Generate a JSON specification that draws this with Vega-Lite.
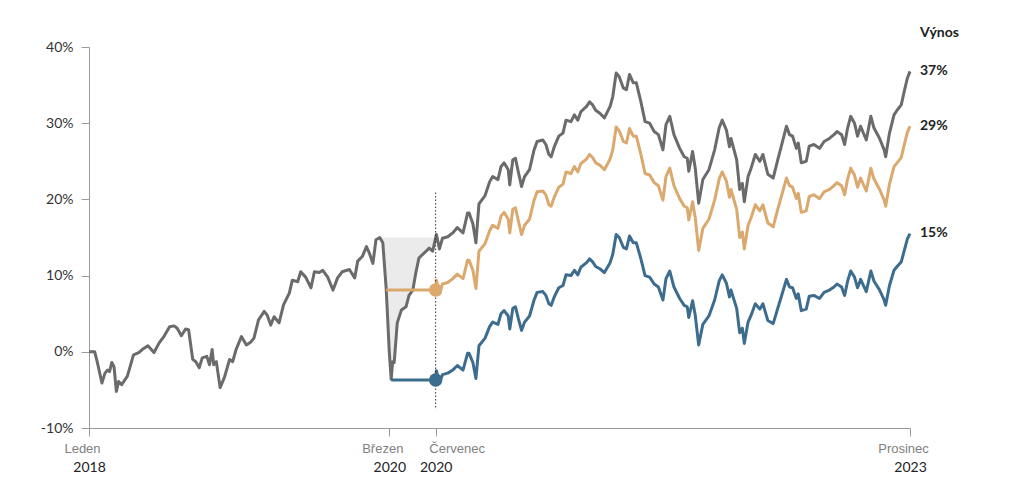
{
  "$schema": "https://vega.github.io/schema/vega-lite/v6.json",
  "width": 821,
  "height": 381,
  "autosize": {"type": "none"},
  "padding": {"left": 89, "top": 47, "right": 114, "bottom": 72},
  "background": "white",
  "config": {"view": {"stroke": null}},
  "datasets": {
    "g": [
      {"d":"2018-01-01","v":0},{"d":"2018-01-16","v":0.0},{"d":"2018-01-23","v":-1.4},{"d":"2018-02-04","v":-4.1},
      {"d":"2018-02-12","v":-2.8},{"d":"2018-02-19","v":-2.4},{"d":"2018-02-24","v":-2.6},{"d":"2018-03-02","v":-1.4},
      {"d":"2018-03-08","v":-2.0},{"d":"2018-03-14","v":-5.2},{"d":"2018-03-20","v":-3.9},{"d":"2018-03-28","v":-4.3},
      {"d":"2018-04-12","v":-3.2},{"d":"2018-04-28","v":-0.4},{"d":"2018-05-12","v":-0.1},{"d":"2018-05-21","v":0.3},
      {"d":"2018-06-05","v":0.8},{"d":"2018-06-21","v":-0.1},{"d":"2018-07-05","v":1.2},{"d":"2018-07-17","v":2.0},
      {"d":"2018-08-01","v":3.3},{"d":"2018-08-13","v":3.4},{"d":"2018-08-21","v":3.1},{"d":"2018-09-01","v":2.1},
      {"d":"2018-09-12","v":3.0},{"d":"2018-09-20","v":2.9},{"d":"2018-10-01","v":-1.0},{"d":"2018-10-09","v":-1.3},
      {"d":"2018-10-18","v":-2.1},{"d":"2018-10-26","v":-0.8},{"d":"2018-11-07","v":-0.6},{"d":"2018-11-14","v":-1.7},
      {"d":"2018-11-21","v":0.3},{"d":"2018-11-25","v":-1.7},{"d":"2018-12-02","v":-1.3},{"d":"2018-12-12","v":-4.7},
      {"d":"2018-12-23","v":-3.4},{"d":"2019-01-06","v":-1.0},{"d":"2019-01-14","v":-1.3},{"d":"2019-01-23","v":0.3},
      {"d":"2019-02-06","v":2.0},{"d":"2019-02-19","v":0.9},{"d":"2019-03-03","v":1.3},{"d":"2019-03-11","v":1.8},
      {"d":"2019-03-23","v":4.2},{"d":"2019-04-07","v":5.3},{"d":"2019-04-15","v":4.8},{"d":"2019-04-24","v":3.5},
      {"d":"2019-05-03","v":4.6},{"d":"2019-05-16","v":3.8},{"d":"2019-05-28","v":6.2},{"d":"2019-06-12","v":7.7},
      {"d":"2019-06-20","v":9.4},{"d":"2019-07-04","v":9.2},{"d":"2019-07-12","v":10.5},{"d":"2019-07-25","v":9.8},
      {"d":"2019-08-08","v":8.4},{"d":"2019-08-17","v":10.5},{"d":"2019-08-30","v":10.4},{"d":"2019-09-08","v":10.7},
      {"d":"2019-09-21","v":9.8},{"d":"2019-10-05","v":8.1},{"d":"2019-10-17","v":9.7},{"d":"2019-10-29","v":10.5},
      {"d":"2019-11-17","v":10.8},{"d":"2019-12-01","v":9.7},{"d":"2019-12-09","v":11.9},{"d":"2019-12-21","v":12.5},
      {"d":"2020-01-01","v":13.8},{"d":"2020-01-09","v":12.9},{"d":"2020-01-18","v":11.6},{"d":"2020-01-26","v":14.7},
      {"d":"2020-02-05","v":15.0},{"d":"2020-02-13","v":14.3},{"d":"2020-02-22","v":8.2},{"d":"2020-03-01","v":0.0},
      {"d":"2020-03-06","v":-3.6},{"d":"2020-03-10","v":-1.3},{"d":"2020-03-14","v":-1.4},{"d":"2020-03-22","v":3.8},
      {"d":"2020-04-02","v":5.5},{"d":"2020-04-14","v":5.9},{"d":"2020-04-22","v":7.4},{"d":"2020-05-02","v":8.1},
      {"d":"2020-05-10","v":10.4},{"d":"2020-05-18","v":12.3},{"d":"2020-05-26","v":12.7},{"d":"2020-06-06","v":13.2},
      {"d":"2020-06-14","v":13.6},{"d":"2020-06-23","v":13.2},{"d":"2020-07-03","v":15.4},{"d":"2020-07-11","v":13.5},
      {"d":"2020-07-19","v":14.9},{"d":"2020-08-02","v":15.1},{"d":"2020-08-15","v":15.6},{"d":"2020-08-27","v":16.3},
      {"d":"2020-09-11","v":15.6},{"d":"2020-09-23","v":18.2},{"d":"2020-09-27","v":18.2},{"d":"2020-10-07","v":16.8},
      {"d":"2020-10-15","v":14.3},{"d":"2020-10-23","v":19.4},{"d":"2020-11-08","v":20.5},{"d":"2020-11-20","v":22.3},
      {"d":"2020-11-28","v":23.0},{"d":"2020-12-12","v":22.6},{"d":"2020-12-20","v":24.3},{"d":"2020-12-28","v":24.8},
      {"d":"2021-01-08","v":23.9},{"d":"2021-01-12","v":21.9},{"d":"2021-01-20","v":25.2},{"d":"2021-01-27","v":25.4},
      {"d":"2021-02-04","v":23.5},{"d":"2021-02-12","v":21.7},{"d":"2021-02-20","v":23.0},{"d":"2021-03-05","v":23.9},
      {"d":"2021-03-17","v":26.5},{"d":"2021-03-25","v":27.6},{"d":"2021-04-09","v":27.8},{"d":"2021-04-17","v":27.2},
      {"d":"2021-04-25","v":25.9},{"d":"2021-05-01","v":25.6},{"d":"2021-05-09","v":26.9},{"d":"2021-05-21","v":28.3},
      {"d":"2021-06-01","v":28.7},{"d":"2021-06-09","v":30.4},{"d":"2021-06-22","v":30.2},{"d":"2021-07-01","v":31.1},
      {"d":"2021-07-10","v":30.4},{"d":"2021-07-18","v":31.5},{"d":"2021-08-02","v":32.2},{"d":"2021-08-10","v":32.8},
      {"d":"2021-08-18","v":32.4},{"d":"2021-08-26","v":31.7},{"d":"2021-09-06","v":31.3},{"d":"2021-09-18","v":30.7},
      {"d":"2021-10-03","v":32.2},{"d":"2021-10-10","v":33.5},{"d":"2021-10-19","v":36.6},{"d":"2021-10-27","v":36.1},
      {"d":"2021-11-07","v":34.6},{"d":"2021-11-15","v":34.4},{"d":"2021-11-23","v":36.4},{"d":"2021-12-03","v":35.3},
      {"d":"2021-12-11","v":35.3},{"d":"2021-12-23","v":32.8},{"d":"2022-01-03","v":30.2},{"d":"2022-01-15","v":30.0},
      {"d":"2022-01-27","v":28.9},{"d":"2022-02-07","v":28.5},{"d":"2022-02-19","v":26.5},{"d":"2022-02-27","v":29.8},
      {"d":"2022-03-09","v":30.9},{"d":"2022-03-20","v":28.5},{"d":"2022-04-04","v":26.7},{"d":"2022-04-16","v":25.6},
      {"d":"2022-04-24","v":25.4},{"d":"2022-04-28","v":23.7},{"d":"2022-05-08","v":26.3},{"d":"2022-05-15","v":24.1},
      {"d":"2022-05-24","v":19.5},{"d":"2022-06-04","v":22.6},{"d":"2022-06-20","v":23.9},{"d":"2022-07-05","v":26.5},
      {"d":"2022-07-17","v":29.4},{"d":"2022-07-25","v":30.4},{"d":"2022-08-05","v":29.1},{"d":"2022-08-13","v":26.9},
      {"d":"2022-08-17","v":28.0},{"d":"2022-09-01","v":25.2},{"d":"2022-09-09","v":21.3},{"d":"2022-09-16","v":22.1},
      {"d":"2022-09-21","v":19.7},{"d":"2022-10-01","v":23.0},{"d":"2022-10-09","v":24.1},{"d":"2022-10-20","v":25.9},
      {"d":"2022-11-01","v":25.0},{"d":"2022-11-09","v":25.9},{"d":"2022-11-22","v":23.3},{"d":"2022-12-06","v":22.8},
      {"d":"2022-12-18","v":25.2},{"d":"2022-12-26","v":26.7},{"d":"2023-01-10","v":29.6},{"d":"2023-01-18","v":28.5},
      {"d":"2023-01-26","v":28.3},{"d":"2023-02-05","v":26.7},{"d":"2023-02-10","v":27.4},{"d":"2023-02-18","v":24.8},
      {"d":"2023-03-03","v":25.0},{"d":"2023-03-11","v":27.0},{"d":"2023-03-23","v":27.2},{"d":"2023-04-07","v":26.7},
      {"d":"2023-04-19","v":27.6},{"d":"2023-05-03","v":28.0},{"d":"2023-05-15","v":28.5},{"d":"2023-05-23","v":28.9},
      {"d":"2023-06-04","v":28.5},{"d":"2023-06-12","v":27.2},{"d":"2023-06-20","v":29.4},{"d":"2023-06-28","v":30.9},
      {"d":"2023-07-08","v":30.0},{"d":"2023-07-16","v":28.3},{"d":"2023-07-24","v":29.6},{"d":"2023-08-08","v":27.8},
      {"d":"2023-08-20","v":30.9},{"d":"2023-08-28","v":29.4},{"d":"2023-09-12","v":28.0},{"d":"2023-09-24","v":26.5},
      {"d":"2023-09-28","v":25.6},{"d":"2023-10-08","v":28.7},{"d":"2023-10-20","v":31.1},{"d":"2023-10-28","v":31.7},
      {"d":"2023-11-08","v":32.4},{"d":"2023-11-16","v":34.2},{"d":"2023-11-24","v":35.9},{"d":"2023-12-01","v":36.8}
    ],
    "t": [
      {"d":"2020-02-22","v":8.1},{"d":"2020-07-01","v":8.1},{"d":"2020-07-03","v":9.4},{"d":"2020-07-11","v":7.6},
      {"d":"2020-07-19","v":8.9},{"d":"2020-08-02","v":9.1},{"d":"2020-08-15","v":9.6},{"d":"2020-08-27","v":10.2},
      {"d":"2020-09-11","v":9.6},{"d":"2020-09-23","v":12.0},{"d":"2020-09-27","v":12.0},{"d":"2020-10-07","v":10.7},
      {"d":"2020-10-15","v":8.3},{"d":"2020-10-23","v":13.2},{"d":"2020-11-08","v":14.2},{"d":"2020-11-20","v":15.9},
      {"d":"2020-11-28","v":16.6},{"d":"2020-12-12","v":16.2},{"d":"2020-12-20","v":17.8},{"d":"2020-12-28","v":18.3},
      {"d":"2021-01-08","v":17.4},{"d":"2021-01-12","v":15.6},{"d":"2021-01-20","v":18.7},{"d":"2021-01-27","v":18.9},
      {"d":"2021-02-04","v":17.1},{"d":"2021-02-12","v":15.4},{"d":"2021-02-20","v":16.6},{"d":"2021-03-05","v":17.4},
      {"d":"2021-03-17","v":19.9},{"d":"2021-03-25","v":21.0},{"d":"2021-04-09","v":21.1},{"d":"2021-04-17","v":20.6},
      {"d":"2021-04-25","v":19.3},{"d":"2021-05-01","v":19.1},{"d":"2021-05-09","v":20.3},{"d":"2021-05-21","v":21.6},
      {"d":"2021-06-01","v":22.0},{"d":"2021-06-09","v":23.6},{"d":"2021-06-22","v":23.4},{"d":"2021-07-01","v":24.3},
      {"d":"2021-07-10","v":23.6},{"d":"2021-07-18","v":24.7},{"d":"2021-08-02","v":25.3},{"d":"2021-08-10","v":25.9},
      {"d":"2021-08-18","v":25.5},{"d":"2021-08-26","v":24.8},{"d":"2021-09-06","v":24.5},{"d":"2021-09-18","v":23.9},
      {"d":"2021-10-03","v":25.3},{"d":"2021-10-10","v":26.5},{"d":"2021-10-19","v":29.5},{"d":"2021-10-27","v":29.0},
      {"d":"2021-11-07","v":27.6},{"d":"2021-11-15","v":27.4},{"d":"2021-11-23","v":29.3},{"d":"2021-12-03","v":28.3},
      {"d":"2021-12-11","v":28.3},{"d":"2021-12-23","v":25.9},{"d":"2022-01-03","v":23.4},{"d":"2022-01-15","v":23.2},
      {"d":"2022-01-27","v":22.2},{"d":"2022-02-07","v":21.8},{"d":"2022-02-19","v":19.9},{"d":"2022-02-27","v":23.0},
      {"d":"2022-03-09","v":24.1},{"d":"2022-03-20","v":21.8},{"d":"2022-04-04","v":20.1},{"d":"2022-04-16","v":19.1},
      {"d":"2022-04-24","v":18.9},{"d":"2022-04-28","v":17.3},{"d":"2022-05-08","v":19.7},{"d":"2022-05-15","v":17.6},
      {"d":"2022-05-24","v":13.3},{"d":"2022-06-04","v":16.2},{"d":"2022-06-20","v":17.4},{"d":"2022-07-05","v":19.9},
      {"d":"2022-07-17","v":22.7},{"d":"2022-07-25","v":23.6},{"d":"2022-08-05","v":22.4},{"d":"2022-08-13","v":20.3},
      {"d":"2022-08-17","v":21.3},{"d":"2022-09-01","v":18.7},{"d":"2022-09-09","v":15.0},{"d":"2022-09-16","v":15.7},
      {"d":"2022-09-21","v":13.5},{"d":"2022-10-01","v":16.6},{"d":"2022-10-09","v":17.6},{"d":"2022-10-20","v":19.3},
      {"d":"2022-11-01","v":18.5},{"d":"2022-11-09","v":19.3},{"d":"2022-11-22","v":16.9},{"d":"2022-12-06","v":16.4},
      {"d":"2022-12-18","v":18.7},{"d":"2022-12-26","v":20.1},{"d":"2023-01-10","v":22.8},{"d":"2023-01-18","v":21.8},
      {"d":"2023-01-26","v":21.6},{"d":"2023-02-05","v":20.1},{"d":"2023-02-10","v":20.8},{"d":"2023-02-18","v":18.3},
      {"d":"2023-03-03","v":18.5},{"d":"2023-03-11","v":20.4},{"d":"2023-03-23","v":20.6},{"d":"2023-04-07","v":20.1},
      {"d":"2023-04-19","v":21.0},{"d":"2023-05-03","v":21.3},{"d":"2023-05-15","v":21.8},{"d":"2023-05-23","v":22.2},
      {"d":"2023-06-04","v":21.8},{"d":"2023-06-12","v":20.6},{"d":"2023-06-20","v":22.7},{"d":"2023-06-28","v":24.1},
      {"d":"2023-07-08","v":23.2},{"d":"2023-07-16","v":21.6},{"d":"2023-07-24","v":22.8},{"d":"2023-08-08","v":21.1},
      {"d":"2023-08-20","v":24.1},{"d":"2023-08-28","v":22.7},{"d":"2023-09-12","v":21.3},{"d":"2023-09-24","v":19.9},
      {"d":"2023-09-28","v":19.1},{"d":"2023-10-08","v":22.0},{"d":"2023-10-20","v":24.3},{"d":"2023-10-28","v":24.8},
      {"d":"2023-11-08","v":25.5},{"d":"2023-11-16","v":27.2},{"d":"2023-11-24","v":28.8},{"d":"2023-12-01","v":29.6}
    ],
    "b": [
      {"d":"2020-03-06","v":-3.7},{"d":"2020-07-01","v":-3.7},{"d":"2020-07-03","v":-2.5},{"d":"2020-07-11","v":-4.1},
      {"d":"2020-07-19","v":-3.0},{"d":"2020-08-02","v":-2.8},{"d":"2020-08-15","v":-2.4},{"d":"2020-08-27","v":-1.8},
      {"d":"2020-09-11","v":-2.4},{"d":"2020-09-23","v":-0.2},{"d":"2020-09-27","v":-0.2},{"d":"2020-10-07","v":-1.4},
      {"d":"2020-10-15","v":-3.5},{"d":"2020-10-23","v":0.8},{"d":"2020-11-08","v":1.8},{"d":"2020-11-20","v":3.3},
      {"d":"2020-11-28","v":3.9},{"d":"2020-12-12","v":3.6},{"d":"2020-12-20","v":5.0},{"d":"2020-12-28","v":5.4},
      {"d":"2021-01-08","v":4.7},{"d":"2021-01-12","v":3.0},{"d":"2021-01-20","v":5.7},{"d":"2021-01-27","v":5.9},
      {"d":"2021-02-04","v":4.3},{"d":"2021-02-12","v":2.8},{"d":"2021-02-20","v":3.9},{"d":"2021-03-05","v":4.7},
      {"d":"2021-03-17","v":6.8},{"d":"2021-03-25","v":7.8},{"d":"2021-04-09","v":7.9},{"d":"2021-04-17","v":7.4},
      {"d":"2021-04-25","v":6.3},{"d":"2021-05-01","v":6.1},{"d":"2021-05-09","v":7.2},{"d":"2021-05-21","v":8.4},
      {"d":"2021-06-01","v":8.7},{"d":"2021-06-09","v":10.1},{"d":"2021-06-22","v":10.0},{"d":"2021-07-01","v":10.7},
      {"d":"2021-07-10","v":10.1},{"d":"2021-07-18","v":11.1},{"d":"2021-08-02","v":11.7},{"d":"2021-08-10","v":12.2},
      {"d":"2021-08-18","v":11.8},{"d":"2021-08-26","v":11.2},{"d":"2021-09-06","v":10.9},{"d":"2021-09-18","v":10.4},
      {"d":"2021-10-03","v":11.7},{"d":"2021-10-10","v":12.8},{"d":"2021-10-19","v":15.4},{"d":"2021-10-27","v":15.0},
      {"d":"2021-11-07","v":13.7},{"d":"2021-11-15","v":13.5},{"d":"2021-11-23","v":15.2},{"d":"2021-12-03","v":14.3},
      {"d":"2021-12-11","v":14.3},{"d":"2021-12-23","v":12.2},{"d":"2022-01-03","v":10.0},{"d":"2022-01-15","v":9.8},
      {"d":"2022-01-27","v":8.9},{"d":"2022-02-07","v":8.5},{"d":"2022-02-19","v":6.8},{"d":"2022-02-27","v":9.6},
      {"d":"2022-03-09","v":10.6},{"d":"2022-03-20","v":8.5},{"d":"2022-04-04","v":7.0},{"d":"2022-04-16","v":6.1},
      {"d":"2022-04-24","v":5.9},{"d":"2022-04-28","v":4.5},{"d":"2022-05-08","v":6.7},{"d":"2022-05-15","v":4.8},
      {"d":"2022-05-24","v":0.9},{"d":"2022-06-04","v":3.6},{"d":"2022-06-20","v":4.7},{"d":"2022-07-05","v":6.8},
      {"d":"2022-07-17","v":9.3},{"d":"2022-07-25","v":10.1},{"d":"2022-08-05","v":9.0},{"d":"2022-08-13","v":7.2},
      {"d":"2022-08-17","v":8.1},{"d":"2022-09-01","v":5.7},{"d":"2022-09-09","v":2.5},{"d":"2022-09-16","v":3.1},
      {"d":"2022-09-21","v":1.1},{"d":"2022-10-01","v":3.9},{"d":"2022-10-09","v":4.8},{"d":"2022-10-20","v":6.3},
      {"d":"2022-11-01","v":5.6},{"d":"2022-11-09","v":6.3},{"d":"2022-11-22","v":4.1},{"d":"2022-12-06","v":3.7},
      {"d":"2022-12-18","v":5.7},{"d":"2022-12-26","v":7.0},{"d":"2023-01-10","v":9.5},{"d":"2023-01-18","v":8.5},
      {"d":"2023-01-26","v":8.4},{"d":"2023-02-05","v":7.0},{"d":"2023-02-10","v":7.6},{"d":"2023-02-18","v":5.4},
      {"d":"2023-03-03","v":5.6},{"d":"2023-03-11","v":7.3},{"d":"2023-03-23","v":7.4},{"d":"2023-04-07","v":7.0},
      {"d":"2023-04-19","v":7.8},{"d":"2023-05-03","v":8.1},{"d":"2023-05-15","v":8.5},{"d":"2023-05-23","v":8.9},
      {"d":"2023-06-04","v":8.5},{"d":"2023-06-12","v":7.4},{"d":"2023-06-20","v":9.3},{"d":"2023-06-28","v":10.6},
      {"d":"2023-07-08","v":9.8},{"d":"2023-07-16","v":8.4},{"d":"2023-07-24","v":9.5},{"d":"2023-08-08","v":7.9},
      {"d":"2023-08-20","v":10.6},{"d":"2023-08-28","v":9.3},{"d":"2023-09-12","v":8.1},{"d":"2023-09-24","v":6.8},
      {"d":"2023-09-28","v":6.1},{"d":"2023-10-08","v":8.7},{"d":"2023-10-20","v":10.7},{"d":"2023-10-28","v":11.2},
      {"d":"2023-11-08","v":11.8},{"d":"2023-11-16","v":13.3},{"d":"2023-11-24","v":14.8},{"d":"2023-12-01","v":15.5}
    ],
    "shade": [
      {"d":"2020-02-11","v":15.0},{"d":"2020-02-13","v":14.3},{"d":"2020-02-22","v":8.2},{"d":"2020-03-01","v":0.0},
      {"d":"2020-03-06","v":-3.6},{"d":"2020-03-10","v":-1.3},{"d":"2020-03-14","v":-1.4},{"d":"2020-03-22","v":3.8},
      {"d":"2020-04-02","v":5.5},{"d":"2020-04-14","v":5.9},{"d":"2020-04-22","v":7.4},{"d":"2020-05-02","v":8.1},
      {"d":"2020-05-10","v":10.4},{"d":"2020-05-18","v":12.3},{"d":"2020-05-26","v":12.7},{"d":"2020-06-06","v":13.2},
      {"d":"2020-06-14","v":13.6},{"d":"2020-06-23","v":13.2},{"d":"2020-06-30","v":14.0}
    ],
    "dots": [
      {"d":"2020-07-01","v":8.1,"s":"t"},{"d":"2020-07-01","v":-3.7,"s":"b"}
    ],
    "marker": [{"d":"2020-07-01","v":20.9,"bottom":-7.6}],
    "labels": [
      {"d":"2023-12-01","v":36.8,"t":"37%"},{"d":"2023-12-01","v":29.6,"t":"29%"},
      {"d":"2023-12-01","v":15.6,"t":"15%"},{"d":"2023-12-01","v":41.9,"t":"Výnos"}
    ]
  },
  "resolve": {"axis": {"x": "independent"}},
  "layer": [
    {
      "data": {"name": "shade"},
      "mark": {"type": "area", "color": "#ebebeb", "opacity": 1},
      "encoding": {
        "x": {"field": "d", "type": "temporal", "axis": null,
              "scale": {"type": "utc", "nice": false, "domain": [{"year":2018,"month":1,"date":1,"utc":true},{"year":2023,"month":12,"date":1,"utc":true}]}},
        "y": {"field": "v", "type": "quantitative", "title": null,
              "scale": {"domain": [-10, 40], "nice": false, "zero": false},
              "axis": {"values": [-10, 0, 10, 20, 30, 40], "labelExpr": "datum.value + '%'", "grid": false, "title": null,
                       "domainColor": "#9a9a9a", "tickColor": "#9a9a9a", "tickSize": 8, "labelPadding": 8,
                       "labelColor": "#333333", "labelFont": "Lato", "labelFontSize": 14}},
        "y2": {"datum": 15}
      }
    },
    {
      "data": {"name": "g"},
      "mark": {"type": "line", "color": "#6b6b6b", "strokeWidth": 3, "strokeJoin": "round"},
      "encoding": {
        "x": {"field": "d", "type": "temporal", "title": null,
              "axis": {"orient": "bottom", "values": [{"year":2018,"month":1,"date":1,"utc":true},{"year":2020,"month":3,"date":1,"utc":true},{"year":2020,"month":7,"date":1,"utc":true},{"year":2023,"month":12,"date":1,"utc":true}],
                       "labelExpr": "utcFormat(datum.value,'%m')=='01' ? 'Leden' : utcFormat(datum.value,'%m')=='03' ? 'Březen' : utcFormat(datum.value,'%m')=='07' ? 'Červenec' : 'Prosinec'",
                       "grid": false, "domainColor": "#9a9a9a", "tickColor": "#9a9a9a", "tickSize": 8, "labelPadding": 6,
                       "labelColor": "#808080", "labelFont": "Liberation Sans", "labelFontSize": 13, "labelFlush": false, "labelOverlap": false,
                       "labelOffset": {"condition": {"test": "utcFormat(datum.value,'%m')=='07'", "value": 21}, "value": -7}}},
        "y": {"field": "v", "type": "quantitative", "title": null}
      }
    },
    {
      "data": {"name": "t"},
      "mark": {"type": "line", "color": "#dba86e", "strokeWidth": 3, "strokeJoin": "round"},
      "encoding": {
        "x": {"field": "d", "type": "temporal", "axis": null},
        "y": {"field": "v", "type": "quantitative", "title": null}
      }
    },
    {
      "data": {"name": "b"},
      "mark": {"type": "line", "color": "#3d6d8e", "strokeWidth": 3, "strokeJoin": "round"},
      "encoding": {
        "x": {"field": "d", "type": "temporal", "title": null,
              "axis": {"orient": "bottom", "values": [{"year":2018,"month":1,"date":1,"utc":true},{"year":2020,"month":3,"date":1,"utc":true},{"year":2020,"month":7,"date":1,"utc":true},{"year":2023,"month":12,"date":1,"utc":true}],
                       "format": "%Y", "grid": false, "domain": false, "ticks": false, "tickSize": 0, "labelPadding": 32,
                       "labelColor": "#222222", "labelFont": "Lato", "labelFontSize": 14, "labelFlush": false, "labelOverlap": false}},
        "y": {"field": "v", "type": "quantitative", "title": null}
      }
    },
    {
      "data": {"name": "marker"},
      "mark": {"type": "rule", "color": "#333333", "strokeWidth": 1, "strokeDash": [1.5, 2]},
      "encoding": {
        "x": {"field": "d", "type": "temporal", "axis": null},
        "y": {"field": "v", "type": "quantitative", "title": null},
        "y2": {"field": "bottom"}
      }
    },
    {
      "data": {"name": "dots"},
      "mark": {"type": "circle", "opacity": 1, "size": 180},
      "encoding": {
        "x": {"field": "d", "type": "temporal", "axis": null},
        "y": {"field": "v", "type": "quantitative", "title": null},
        "color": {"field": "s", "type": "nominal", "legend": null, "scale": {"domain": ["t", "b"], "range": ["#dba86e", "#3d6d8e"]}}
      }
    },
    {
      "data": {"name": "labels"},
      "mark": {"type": "text", "align": "left", "baseline": "middle", "dx": 10, "font": "Lato", "fontSize": 14, "fontWeight": "bold", "color": "#222222", "clip": false},
      "encoding": {
        "x": {"field": "d", "type": "temporal", "axis": null},
        "y": {"field": "v", "type": "quantitative", "title": null},
        "text": {"field": "t"}
      }
    }
  ]
}
